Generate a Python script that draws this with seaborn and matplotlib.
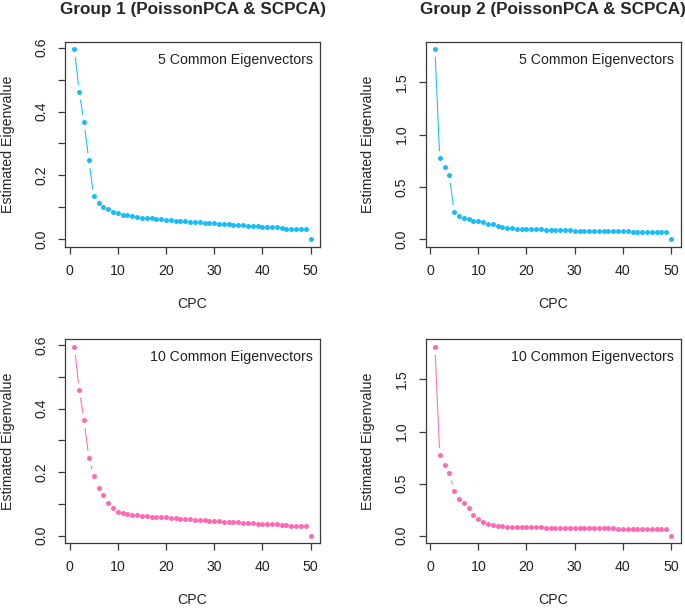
import numpy as np
import pandas as pd
import matplotlib
matplotlib.use("Agg")
import matplotlib.pyplot as plt
import seaborn as sns

# ── Data ──────────────────────────────────────────
cpc = list(range(1, 51))

g1_5 = [0.595, 0.460, 0.366, 0.247, 0.134, 0.112, 0.102, 0.093, 0.086, 0.083,
        0.077, 0.075, 0.071, 0.069, 0.067, 0.065, 0.065, 0.063, 0.062, 0.060,
        0.059, 0.058, 0.057, 0.056, 0.055, 0.054, 0.053, 0.052, 0.050, 0.049,
        0.048, 0.047, 0.046, 0.045, 0.044, 0.043, 0.042, 0.041, 0.040, 0.039,
        0.038, 0.037, 0.037, 0.036, 0.032, 0.033, 0.033, 0.033, 0.033, 0.0]

g2_5 = [1.816, 0.774, 0.687, 0.613, 0.255, 0.219, 0.203, 0.190, 0.174, 0.170,
        0.161, 0.148, 0.142, 0.129, 0.119, 0.111, 0.110, 0.101, 0.099, 0.097,
        0.096, 0.094, 0.092, 0.090, 0.088, 0.086, 0.085, 0.084, 0.083, 0.082,
        0.080, 0.079, 0.078, 0.077, 0.076, 0.077, 0.076, 0.075, 0.074, 0.073,
        0.073, 0.072, 0.072, 0.070, 0.070, 0.069, 0.069, 0.068, 0.068, 0.0]

g1_10 = [0.594, 0.458, 0.364, 0.244, 0.189, 0.150, 0.129, 0.103, 0.086, 0.076,
         0.073, 0.067, 0.066, 0.064, 0.063, 0.062, 0.060, 0.058, 0.058, 0.058,
         0.056, 0.055, 0.054, 0.053, 0.052, 0.051, 0.050, 0.049, 0.047, 0.046,
         0.045, 0.044, 0.044, 0.043, 0.042, 0.041, 0.040, 0.039, 0.038, 0.038,
         0.037, 0.036, 0.036, 0.035, 0.034, 0.030, 0.031, 0.032, 0.032, 0.0]

g2_10 = [1.813, 0.773, 0.683, 0.602, 0.428, 0.354, 0.316, 0.264, 0.196, 0.161,
         0.129, 0.109, 0.100, 0.097, 0.090, 0.088, 0.087, 0.085, 0.084, 0.083,
         0.082, 0.081, 0.080, 0.079, 0.079, 0.078, 0.077, 0.076, 0.075, 0.075,
         0.074, 0.073, 0.072, 0.072, 0.071, 0.071, 0.070, 0.070, 0.069, 0.069,
         0.068, 0.067, 0.067, 0.066, 0.066, 0.065, 0.065, 0.064, 0.063, 0.0]

titles = ["Group 1 (PoissonPCA & SCPCA)", "Group 2 (PoissonPCA & SCPCA)"]
notes = ["5 Common Eigenvectors", "10 Common Eigenvectors"]
blue = "#18BDF7"
pink = "#FF69B4"

# ── Style ─────────────────────────────────────────
sns.set_style("ticks")
plt.rcParams["font.family"] = ["Liberation Sans", "DejaVu Sans"]
plt.rcParams["font.size"] = 10.2

fig = plt.figure(figsize=(6.85, 6.09), dpi=100)
W, H = 685, 609

def px_axes(left, top, w, h):
    return fig.add_axes([left / W, (H - top - h) / H, w / W, h / H])

panels = [
    (px_axes(65, 41.7, 255, 205), g1_5, blue, notes[0], titles[0], "left"),
    (px_axes(425.5, 41.7, 255, 205), g2_5, blue, notes[0], titles[1], "right"),
    (px_axes(65, 339.3, 255, 204), g1_10, pink, notes[1], None, "left"),
    (px_axes(425.5, 339.3, 255, 204), g2_10, pink, notes[1], None, "right"),
]

for ax, vals, col, note, title, side in panels:
    df = pd.DataFrame({"CPC": cpc, "val": vals})
    # R type="b": line with gaps around each point
    sns.lineplot(data=df, x="CPC", y="val", color=col, lw=0.75, ax=ax, zorder=2)
    sns.scatterplot(data=df, x="CPC", y="val", color="white", s=115,
                    linewidth=0, ax=ax, zorder=3)
    sns.scatterplot(data=df, x="CPC", y="val", color=col, s=13,
                    linewidth=0, ax=ax, zorder=4)

    xr = max(cpc) - min(cpc)
    ax.set_xlim(min(cpc) - 0.04 * xr, max(cpc) + 0.04 * xr)
    yr = max(vals) - min(vals)
    ax.set_ylim(min(vals) - 0.04 * yr, max(vals) + 0.04 * yr)

    ax.set_xticks([0, 10, 20, 30, 40, 50])
    if side == "left":
        yt = [0.0, 0.1, 0.2, 0.3, 0.4, 0.5, 0.6]
        ax.set_yticks(yt)
        ax.set_yticklabels(["0.0", "", "0.2", "", "0.4", "", "0.6"])
    else:
        ax.set_yticks([0.0, 0.5, 1.0, 1.5])
        ax.set_yticklabels(["0.0", "0.5", "1.0", "1.5"])

    ax.tick_params(axis="both", direction="out", length=5.2, width=0.9,
                   color="#3a3a3a", labelcolor="#222222", labelsize=10.2, pad=7)
    for lab in ax.get_yticklabels():
        lab.set_rotation(90)
        lab.set_va("center")
        lab.set_ha("right")

    for sp in ax.spines.values():
        sp.set_visible(True)
        sp.set_color("#3a3a3a")
        sp.set_linewidth(0.9)
        sp.set_zorder(5)

    ax.set_xlabel("CPC", fontsize=10.2, color="#222222")
    ax.set_ylabel("Estimated Eigenvalue", fontsize=10.2, color="#222222")
    ax.xaxis.set_label_coords(0.5, -0.245)
    ax.yaxis.set_label_coords(-0.198, 0.5)

    ax.text(0.973, 0.912, note, transform=ax.transAxes, ha="right", va="center",
            fontsize=10.2, color="#222222")
    if title:
        ax.set_title(title, fontsize=12.3, fontweight="bold", pad=20)

fig.savefig("out.png", dpi=100)
